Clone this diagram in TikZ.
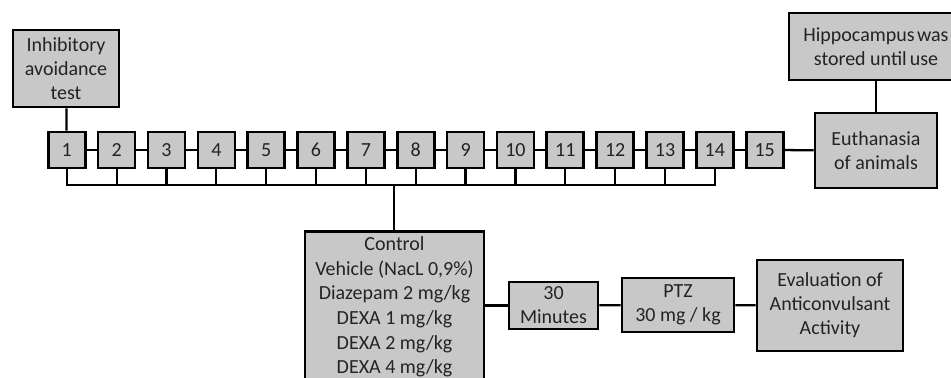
\documentclass[tikz,border=0pt]{standalone}
\usepackage{fontspec}
\setmainfont{Carlito}
\definecolor{boxgray}{RGB}{200,200,200}
\definecolor{txt}{RGB}{35,35,35}
\begin{document}
\begin{tikzpicture}[x=0.75pt,y=-0.75pt,
  box/.style={draw=black, fill=boxgray, line width=2pt, inner sep=0pt, align=center,
    text=txt, font=\fontsize{15}{18}\selectfont},
  numbox/.style={box, minimum width=27.75pt, minimum height=27pt},
  conn/.style={line width=1.7pt}]
\useasboundingbox (0,0) rectangle (951,378);
\clip (0,0) rectangle (951,378);
% bus
\coordinate (busC) at (394,185);
% top boxes
\node[box, minimum width=79.5pt, minimum height=57.75pt] (inh) at (66,68.5) {Inhibitory\\avoidance\\test};
\foreach \i in {1,...,15} {
  \node[numbox] (n\i) at ({66.8+49.85*(\i-1)},150) {\i};
}
\node[box, minimum width=91.5pt, minimum height=56.25pt] (euth) at (876,150.5) {Euthanasia\\of animals};
\node[box, minimum width=130.5pt, minimum height=50.25pt] (hip) at (876,46.5) {Hippocampus\hspace{0.12em}was\\stored until\hspace{0.15em}use};
% bottom boxes
\node[box, anchor=north, minimum width=134.25pt, minimum height=127.5pt] (ctrl) at (394.5,230) {};
\node[anchor=north, align=center, inner sep=0pt, text=txt, font=\fontsize{15}{18.45}\selectfont] (ctrltext) at (394.5,236.5)
  {Control\\Vehicle (NacL 0,9\%)\\Diazepam 2 mg/kg\\DEXA 1 mg/kg\\DEXA 2 mg/kg\\DEXA 4 mg/kg};
\node[box, minimum width=66.75pt, minimum height=35.25pt] (min) at (553.5,305.5) {30\\Minutes};
\node[box, minimum width=84pt, minimum height=40.5pt] (ptz) at (678,305) {PTZ\\30 mg / kg};
\node[box, minimum width=109.5pt, minimum height=68.25pt] (eval) at (830,305.5) {Evaluation of\\Anticonvulsant\\Activity};
\coordinate (busL) at (n1.south |- busC);
\coordinate (busR) at (n14.south |- busC);
% connectors
\begin{scope}[on background layer/.style={}]
\draw[conn] (inh) -- (n1);
\foreach \i [evaluate=\i as \j using int(\i+1)] in {1,...,14} {
  \draw[conn] (n\i) -- (n\j);
}
\draw[conn] (n15) -- (euth);
\draw[conn] (euth) -- (hip);
\draw[conn, line cap=rect] (busL) -- (busR);
\foreach \i in {1,...,14} {
  \draw[conn] (n\i.south) -- (n\i.south |- busL);
}
\draw[conn] (busC) -- (busC |- ctrl.north);
\draw[conn] (ctrl.east |- min.west) -- (min.west);
\draw[conn] (min) -- (ptz);
\draw[conn] (ptz) -- (eval);
\end{scope}
\end{tikzpicture}
\end{document}
